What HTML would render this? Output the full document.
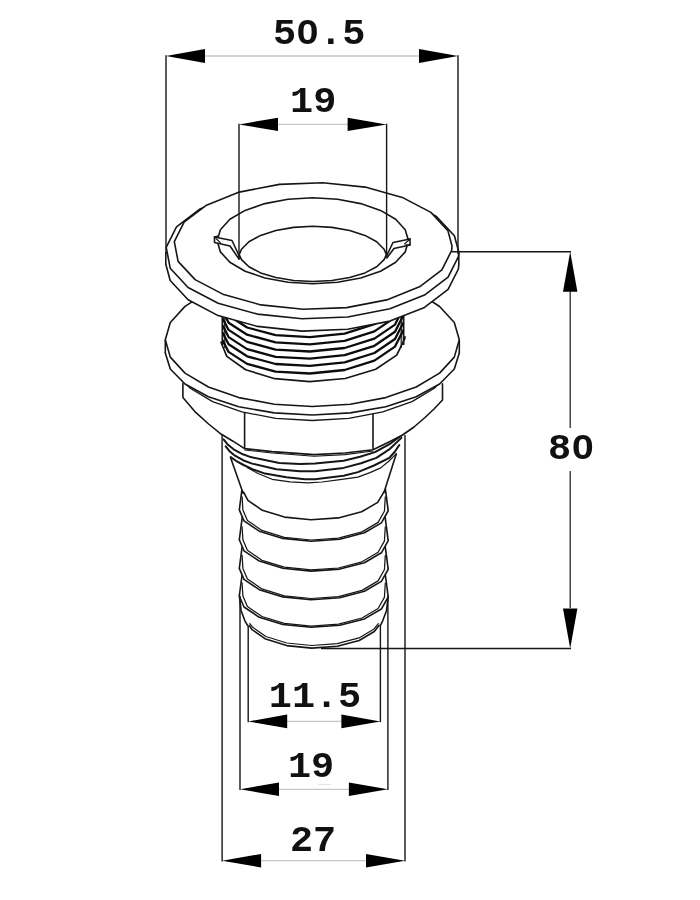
<!DOCTYPE html>
<html><head><meta charset="utf-8"><title>Thru-hull fitting dimensions</title>
<style>
html,body{margin:0;padding:0;background:#fff;}
body{width:700px;height:900px;overflow:hidden;}
svg{display:block;}
text{font-family:"Liberation Mono",monospace;font-weight:bold;fill:#111;}
.lbl{filter:grayscale(1);}
</style></head>
<body>
<svg width="700" height="900" viewBox="0 0 700 900">
<rect width="700" height="900" fill="#fff"/>
<!-- hose barb -->
<polygon points="380.3,619.8 380.3,620.8 374.3,631.5 359.2,640.5 337.3,646.3 311.8,648.1 286.6,645.6 265.7,639.1 252.1,629.7 247.9,618.8 253.9,608.1 269.0,599.1 290.9,593.3 316.4,591.5 341.6,594.0 362.5,600.5 376.1,609.9 380.3,619.8" fill="#fff" stroke="none"/>
<polygon points="239.5,597.0 388.1,597.0 380.3,625.6 247.7,625.6" fill="#fff" stroke="none"/>
<polyline points="379.0,625.4 374.3,631.5 359.2,640.5 337.3,646.3 311.8,648.1 286.6,645.6 265.7,639.1 252.1,629.7 249.2,625.4" fill="none" stroke="#161616" stroke-width="1.6" stroke-linejoin="round" stroke-linecap="round"/>
<polyline points="388.1,597.0 386.5,610.7 382.7,620.8 380.3,625.6" fill="none" stroke="#161616" stroke-width="1.6" stroke-linejoin="round" stroke-linecap="round"/>
<polyline points="239.5,597.0 241.1,610.7 244.9,620.8 247.7,625.6" fill="none" stroke="#161616" stroke-width="1.6" stroke-linejoin="round" stroke-linecap="round"/>
<polyline points="378.3,623.6 374.1,628.9 359.0,637.9 337.2,643.7 311.8,645.5 286.8,643.0 265.9,636.5 252.4,627.1 249.9,623.6" fill="none" stroke="#161616" stroke-width="1.2" stroke-linejoin="round" stroke-linecap="round"/>
<polygon points="388.1,596.0 388.1,597.1 381.4,609.0 364.4,618.9 339.8,625.3 311.1,627.3 282.8,624.5 259.3,617.3 244.0,607.0 239.3,596.0 242.7,570.0 384.7,570.0" fill="#fff" stroke="none"/>
<polyline points="388.1,596.0 388.1,597.1 381.4,609.0 364.4,618.9 339.8,625.3 311.1,627.3 282.8,624.5 259.3,617.3 244.0,607.0 239.3,596.0" fill="none" stroke="#161616" stroke-width="1.6" stroke-linejoin="round" stroke-linecap="round"/>
<polyline points="385.3,583.0 384.5,596.0 384.5,597.1 378.1,608.5 362.0,618.0 338.5,624.2 311.2,626.1 284.3,623.4 261.9,616.5 247.4,606.5 242.9,596.0 242.1,583.0" fill="none" stroke="#161616" stroke-width="1.25" stroke-linejoin="round" stroke-linecap="round"/>
<line x1="239.3" y1="596.0" x2="242.7" y2="570.0" stroke="#161616" stroke-width="1.6"/>
<line x1="388.1" y1="596.0" x2="384.7" y2="570.0" stroke="#161616" stroke-width="1.6"/>
<polygon points="388.1,568.4 388.1,569.5 381.4,581.4 364.4,591.3 339.8,597.7 311.1,599.7 282.8,596.9 259.3,589.7 244.0,579.4 239.3,568.4 242.7,542.4 384.7,542.4" fill="#fff" stroke="none"/>
<polyline points="388.1,568.4 388.1,569.5 381.4,581.4 364.4,591.3 339.8,597.7 311.1,599.7 282.8,596.9 259.3,589.7 244.0,579.4 239.3,568.4" fill="none" stroke="#161616" stroke-width="1.6" stroke-linejoin="round" stroke-linecap="round"/>
<polyline points="385.3,555.4 384.5,568.4 384.5,569.5 378.1,580.9 362.0,590.4 338.5,596.6 311.2,598.5 284.3,595.8 261.9,588.9 247.4,578.9 242.9,568.4 242.1,555.4" fill="none" stroke="#161616" stroke-width="1.25" stroke-linejoin="round" stroke-linecap="round"/>
<line x1="239.3" y1="568.4" x2="242.7" y2="542.4" stroke="#161616" stroke-width="1.6"/>
<line x1="388.1" y1="568.4" x2="384.7" y2="542.4" stroke="#161616" stroke-width="1.6"/>
<polygon points="388.1,539.8 388.1,540.9 381.4,552.8 364.4,562.7 339.8,569.1 311.1,571.1 282.8,568.3 259.3,561.1 244.0,550.8 239.3,539.8 242.7,513.8 384.7,513.8" fill="#fff" stroke="none"/>
<polyline points="388.1,539.8 388.1,540.9 381.4,552.8 364.4,562.7 339.8,569.1 311.1,571.1 282.8,568.3 259.3,561.1 244.0,550.8 239.3,539.8" fill="none" stroke="#161616" stroke-width="1.6" stroke-linejoin="round" stroke-linecap="round"/>
<polyline points="385.3,526.8 384.5,539.8 384.5,540.9 378.1,552.3 362.0,561.8 338.5,568.0 311.2,569.9 284.3,567.2 261.9,560.3 247.4,550.3 242.9,539.8 242.1,526.8" fill="none" stroke="#161616" stroke-width="1.25" stroke-linejoin="round" stroke-linecap="round"/>
<line x1="239.3" y1="539.8" x2="242.7" y2="513.8" stroke="#161616" stroke-width="1.6"/>
<line x1="388.1" y1="539.8" x2="384.7" y2="513.8" stroke="#161616" stroke-width="1.6"/>
<polygon points="388.1,509.9 388.1,511.0 381.4,522.9 364.4,532.8 339.8,539.2 311.1,541.2 282.8,538.4 259.3,531.2 244.0,520.9 239.3,509.9 242.7,483.9 384.7,483.9" fill="#fff" stroke="none"/>
<polyline points="388.1,509.9 388.1,511.0 381.4,522.9 364.4,532.8 339.8,539.2 311.1,541.2 282.8,538.4 259.3,531.2 244.0,520.9 239.3,509.9" fill="none" stroke="#161616" stroke-width="1.6" stroke-linejoin="round" stroke-linecap="round"/>
<polyline points="385.3,496.9 384.5,509.9 384.5,511.0 378.1,522.4 362.0,531.9 338.5,538.1 311.2,540.0 284.3,537.3 261.9,530.4 247.4,520.4 242.9,509.9 242.1,496.9" fill="none" stroke="#161616" stroke-width="1.25" stroke-linejoin="round" stroke-linecap="round"/>
<line x1="239.3" y1="509.9" x2="242.7" y2="483.9" stroke="#161616" stroke-width="1.6"/>
<line x1="388.1" y1="509.9" x2="384.7" y2="483.9" stroke="#161616" stroke-width="1.6"/>
<!-- cone and collar -->
<polygon points="402.1,435.0 396.4,453.6 383.8,493.0 383.8,492.1 377.7,502.4 361.6,511.8 338.3,517.9 311.2,519.8 284.5,517.1 262.3,510.3 247.9,500.4 243.6,492.1 243.4,494.0 230.7,457.1 225.7,446.4 223.6,439.3" fill="#fff" stroke="none"/>
<polyline points="383.8,492.1 377.7,502.4 361.6,511.8 338.3,517.9 311.2,519.8 284.5,517.1 262.3,510.3 247.9,500.4 243.6,492.1" fill="none" stroke="#161616" stroke-width="1.6" stroke-linejoin="round" stroke-linecap="round"/>
<line x1="230.7" y1="457.9" x2="243.4" y2="494.0" stroke="#161616" stroke-width="1.6"/>
<line x1="396.4" y1="453.6" x2="383.8" y2="493.0" stroke="#161616" stroke-width="1.6"/>
<polyline points="247.5,467.8 258.0,473.5 272.1,479.3 290.0,481.8 307.9,482.9 322.0,482.0 340.0,479.6 357.9,477.1 370.0,472.6 380.7,467.9 389.0,461.0 396.4,453.6" fill="none" stroke="#161616" stroke-width="1.2" stroke-linejoin="round" stroke-linecap="round"/>
<polyline points="230.7,457.1 236.0,460.8 243.6,465.0 254.0,469.8 265.0,473.6 286.4,477.3 305.0,479.3 315.0,479.3 343.6,475.7 357.9,472.1 374.0,465.5 389.3,457.9 395.0,451.5 399.3,445.0" fill="none" stroke="#161616" stroke-width="2.0" stroke-linejoin="round" stroke-linecap="round"/>
<polyline points="225.7,446.4 229.5,451.2 235.0,455.7 243.0,460.2 252.1,463.6 276.4,469.3 300.0,471.3 315.0,471.2 343.6,467.9 361.0,463.2 376.4,457.9 390.0,448.8 401.4,437.9" fill="none" stroke="#161616" stroke-width="2.0" stroke-linejoin="round" stroke-linecap="round"/>
<polyline points="223.6,439.3 228.0,444.8 233.6,449.3 241.5,453.7 250.7,457.1 279.3,462.9 300.0,463.9 315.0,463.6 343.6,460.7 360.0,456.8 375.0,452.1 389.5,444.2 402.1,435.0" fill="none" stroke="#161616" stroke-width="2.0" stroke-linejoin="round" stroke-linecap="round"/>
<!-- hex -->
<polygon points="182.9,383.6 182.9,397.6 195.7,412.4 208.6,424.0 221.4,434.3 233.0,441.2 244.6,448.6 272.0,451.6 314.0,454.6 345.0,453.0 373.0,449.8 390.0,441.5 402.5,435.0 414.0,427.0 425.0,417.5 434.0,409.0 442.5,400.0 442.5,383.7" fill="#fff" stroke="none"/>
<polyline points="182.9,383.6 182.9,397.6 195.7,412.4 208.6,424.0 221.4,434.3 233.0,441.2 244.6,448.6 272.0,451.6 314.0,454.6 345.0,453.0 373.0,449.8 390.0,441.5 402.5,435.0 414.0,427.0 425.0,417.5 434.0,409.0 442.5,400.0 442.5,383.7" fill="none" stroke="#161616" stroke-width="1.6" stroke-linejoin="round" stroke-linecap="round"/>
<polyline points="244.6,450.0 272.0,453.0 314.0,456.2 345.0,454.6 373.0,451.0" fill="none" stroke="#161616" stroke-width="1.1" stroke-linejoin="round" stroke-linecap="round"/>
<line x1="244.6" y1="411.0" x2="244.6" y2="449.0" stroke="#161616" stroke-width="1.6"/>
<line x1="373.0" y1="414.0" x2="373.0" y2="449.0" stroke="#161616" stroke-width="1.6"/>
<!-- nut flange -->
<polygon points="453.3,356.0 448.5,372.7 434.4,388.2 412.0,401.6 382.8,411.9 348.8,418.3 312.3,420.5 275.8,418.3 241.8,411.9 212.6,401.6 190.2,388.2 176.1,372.7 171.3,356.0 176.1,339.3 190.2,323.8 212.6,310.4 241.8,300.1 275.8,293.7 312.3,291.5 348.8,293.7 382.8,300.1 412.0,310.4 434.4,323.8 448.5,339.3 453.3,356.0" fill="#fff" stroke="none"/>
<polyline points="451.2,367.2 448.5,372.7 434.4,388.2 412.0,401.6 382.8,411.9 348.8,418.3 312.3,420.5 275.8,418.3 241.8,411.9 212.6,401.6 190.2,388.2 176.1,372.7 173.4,367.2" fill="none" stroke="#161616" stroke-width="1.3" stroke-linejoin="round" stroke-linecap="round"/>
<polygon points="459.3,353.0 454.3,369.0 439.6,384.0 416.2,396.8 385.8,406.7 350.3,412.9 312.3,415.0 274.3,412.9 238.8,406.7 208.4,396.8 185.0,384.0 170.3,369.0 165.3,353.0 170.3,337.0 185.0,322.0 208.4,309.2 238.8,299.3 274.3,293.1 312.3,291.0 350.3,293.1 385.8,299.3 416.2,309.2 439.6,322.0 454.3,337.0 459.3,353.0" fill="#fff" stroke="none"/>
<polygon points="459.3,339.8 454.3,357.1 439.6,373.1 416.2,387.0 385.8,397.6 350.3,404.2 312.3,406.5 274.3,404.2 238.8,397.6 208.4,387.0 185.0,373.1 170.3,357.1 165.3,339.8 170.3,322.5 185.0,306.4 208.4,292.6 238.8,282.0 274.3,275.4 312.3,273.1 350.3,275.4 385.8,282.0 416.2,292.6 439.6,306.4 454.3,322.5 459.3,339.8" fill="#fff" stroke="none"/>
<polygon points="165.3,339.8 459.3,339.8 459.3,353.0 165.3,353.0" fill="#fff" stroke="none"/>
<polyline points="459.3,353.0 454.3,369.0 439.6,384.0 416.2,396.8 385.8,406.7 350.3,412.9 312.3,415.0 274.3,412.9 238.8,406.7 208.4,396.8 185.0,384.0 170.3,369.0 165.3,353.0" fill="none" stroke="#161616" stroke-width="1.6" stroke-linejoin="round" stroke-linecap="round"/>
<polyline points="424.9,296.9 439.6,306.5 454.3,322.5 459.3,339.8 454.3,357.1 439.6,373.1 416.2,387.0 385.8,397.6 350.3,404.2 312.3,406.5 274.3,404.2 238.8,397.6 208.4,387.0 185.0,373.1 170.3,357.1 165.3,339.8 170.3,322.5 185.0,306.4 199.7,296.9" fill="none" stroke="#161616" stroke-width="1.6" stroke-linejoin="round" stroke-linecap="round"/>
<line x1="165.3" y1="339.8" x2="165.3" y2="353.0" stroke="#161616" stroke-width="1.6"/>
<line x1="459.3" y1="339.8" x2="459.3" y2="353.0" stroke="#161616" stroke-width="1.6"/>
<!-- threads -->
<polyline points="405.0,336.8 404.9,338.3 396.7,355.1 375.7,369.2 345.2,378.5 309.8,381.7 274.8,378.7 245.7,369.8 226.8,356.4 221.0,342.2" fill="none" stroke="#161616" stroke-width="1.7" stroke-linejoin="round" stroke-linecap="round"/>
<line x1="222.4" y1="312.0" x2="222.4" y2="345.0" stroke="#161616" stroke-width="1.8"/>
<line x1="403.6" y1="312.0" x2="403.6" y2="345.0" stroke="#161616" stroke-width="1.8"/>
<line x1="224.8" y1="316.0" x2="224.8" y2="348.0" stroke="#161616" stroke-width="1.2"/>
<line x1="401.2" y1="316.0" x2="401.2" y2="348.0" stroke="#161616" stroke-width="1.2"/>
<polyline points="403.0,294.4 395.0,310.2 374.4,324.2 344.6,333.6 309.9,337.1 275.6,335.2 247.1,327.5 228.6,315.5 223.0,304.5" fill="none" stroke="#0c0c0c" stroke-width="2.3" stroke-linejoin="round" stroke-linecap="round"/>
<polyline points="403.0,301.6 395.0,317.4 374.4,331.4 344.6,340.8 309.9,344.3 275.6,342.4 247.1,334.7 228.6,322.7 223.0,311.7" fill="none" stroke="#0c0c0c" stroke-width="2.3" stroke-linejoin="round" stroke-linecap="round"/>
<polyline points="403.0,308.8 395.0,324.6 374.4,338.6 344.6,348.0 309.9,351.5 275.6,349.6 247.1,341.9 228.6,329.9 223.0,318.9" fill="none" stroke="#0c0c0c" stroke-width="2.3" stroke-linejoin="round" stroke-linecap="round"/>
<polyline points="403.0,316.0 395.0,331.8 374.4,345.8 344.6,355.2 309.9,358.7 275.6,356.8 247.1,349.1 228.6,337.1 223.0,326.1" fill="none" stroke="#0c0c0c" stroke-width="2.3" stroke-linejoin="round" stroke-linecap="round"/>
<polyline points="403.0,323.2 395.0,339.0 374.4,353.0 344.6,362.4 309.9,365.9 275.6,364.0 247.1,356.3 228.6,344.3 223.0,333.3" fill="none" stroke="#0c0c0c" stroke-width="2.3" stroke-linejoin="round" stroke-linecap="round"/>
<polyline points="403.0,330.8 395.0,346.6 374.4,360.6 344.6,370.0 309.9,373.5 275.6,371.6 247.1,363.9 228.6,351.9 223.0,340.9" fill="none" stroke="#0c0c0c" stroke-width="2.3" stroke-linejoin="round" stroke-linecap="round"/>
<!-- flange -->
<polygon points="458.8,264.3 458.4,269.0 448.1,289.4 424.5,307.4 389.9,321.1 347.7,329.3 302.1,331.1 257.4,326.4 218.1,315.6 188.1,299.8 170.2,280.5 166.2,259.6 176.5,239.2 200.1,221.2 234.7,207.5 276.9,199.3 322.5,197.5 367.2,202.2 406.5,213.0 436.5,228.8 454.4,248.1 458.8,264.3" fill="#fff" stroke="none"/>
<polygon points="458.8,252.0 458.4,256.7 448.1,277.1 424.5,295.1 389.9,308.8 347.7,317.0 302.1,318.8 257.4,314.1 218.1,303.3 188.1,287.5 170.2,268.2 166.2,247.3 176.5,226.9 200.1,208.9 234.7,195.2 276.9,187.0 322.5,185.2 367.2,189.9 406.5,200.7 436.5,216.5 454.4,235.8 458.8,252.0" fill="#fff" stroke="none"/>
<polyline points="458.8,264.3 458.4,269.0 448.1,289.4 424.5,307.4 389.9,321.1 347.7,329.3 302.1,331.1 257.4,326.4 218.1,315.6 188.1,299.8 170.2,280.5 165.8,264.3" fill="none" stroke="#161616" stroke-width="1.6" stroke-linejoin="round" stroke-linecap="round"/>
<line x1="165.8" y1="252.0" x2="165.8" y2="264.3" stroke="#161616" stroke-width="1.6"/>
<line x1="458.8" y1="252.0" x2="458.8" y2="264.3" stroke="#161616" stroke-width="1.6"/>
<polygon points="458.8,252.0 458.4,256.7 448.1,277.1 424.5,295.1 389.9,308.8 347.7,317.0 302.1,318.8 257.4,314.1 218.1,303.3 188.1,287.5 170.2,268.2 166.2,247.3 176.5,226.9 200.1,208.9 234.7,195.2 276.9,187.0 322.5,185.2 367.2,189.9 406.5,200.7 436.5,216.5 454.4,235.8 458.8,252.0" fill="#fff" stroke="#161616" stroke-width="1.6" stroke-linejoin="round" stroke-linecap="round"/>
<polygon points="452.0,246.0 451.7,250.4 441.9,269.8 419.5,286.8 386.7,299.9 346.6,307.6 303.3,309.3 260.9,304.9 223.7,294.6 195.1,279.6 178.1,261.4 174.3,241.6 184.1,222.2 206.5,205.2 239.3,192.1 279.4,184.4 322.7,182.7 365.1,187.1 402.3,197.4 430.9,212.4 447.9,230.6 452.0,246.0" fill="#fff" stroke="#161616" stroke-width="1.6" stroke-linejoin="round" stroke-linecap="round"/>
<polygon points="408.5,240.8 405.2,251.9 395.7,262.3 380.5,271.2 360.7,278.0 337.6,282.3 312.8,283.8 288.0,282.3 265.0,278.0 245.1,271.2 229.9,262.3 220.4,251.9 217.1,240.8 220.4,229.7 229.9,219.3 245.1,210.4 264.9,203.6 288.0,199.3 312.8,197.8 337.6,199.3 360.7,203.6 380.5,210.4 395.7,219.3 405.2,229.7 408.5,240.8" fill="none" stroke="#161616" stroke-width="1.6" stroke-linejoin="round" stroke-linecap="round"/>
<polyline points="386.2,255.1 384.1,259.6 376.7,266.8 365.0,272.9 349.7,277.5 331.9,280.5 312.8,281.5 293.7,280.5 275.9,277.5 260.6,272.9 248.9,266.8 241.5,259.6 239.4,255.1" fill="none" stroke="#161616" stroke-width="1.6" stroke-linejoin="round" stroke-linecap="round"/>
<polyline points="239.4,254.1 241.5,249.3 248.9,241.8 260.6,235.4 275.9,230.5 293.7,227.4 312.8,226.3 331.9,227.4 349.7,230.5 365.0,235.4 376.7,241.8 384.1,249.3 386.2,254.1" fill="none" stroke="#161616" stroke-width="1.6" stroke-linejoin="round" stroke-linecap="round"/>
<polygon points="214.5,237.0 232.0,240.5 239.0,255.0 239.0,259.0 230.0,246.0 214.5,242.5" fill="#fff" stroke="none"/>
<polyline points="217.7,236.2 214.5,237.0 232.0,240.5 239.0,255.5" fill="none" stroke="#161616" stroke-width="1.6" stroke-linejoin="round" stroke-linecap="round"/>
<polyline points="214.5,237.0 214.5,242.5 230.0,246.0 239.0,259.0" fill="none" stroke="#161616" stroke-width="1.6" stroke-linejoin="round" stroke-linecap="round"/>
<polyline points="216.0,238.5 220.5,242.8" fill="none" stroke="#161616" stroke-width="1.1" stroke-linejoin="round" stroke-linecap="round"/>
<polyline points="239.0,255.0 239.0,259.0" fill="none" stroke="#161616" stroke-width="1.6" stroke-linejoin="round" stroke-linecap="round"/>
<polygon points="410.0,239.0 393.0,242.5 386.6,255.0 386.6,258.0 394.0,248.5 410.0,245.0" fill="#fff" stroke="none"/>
<polyline points="407.5,239.0 410.0,239.0 410.0,245.0 406.0,245.0" fill="none" stroke="#161616" stroke-width="1.6" stroke-linejoin="round" stroke-linecap="round"/>
<polyline points="410.0,239.0 393.0,242.5 386.8,255.5" fill="none" stroke="#161616" stroke-width="1.6" stroke-linejoin="round" stroke-linecap="round"/>
<polyline points="410.0,245.0 394.0,248.5 386.8,258.0" fill="none" stroke="#161616" stroke-width="1.6" stroke-linejoin="round" stroke-linecap="round"/>
<polyline points="409.0,240.0 404.5,244.0" fill="none" stroke="#161616" stroke-width="1.1" stroke-linejoin="round" stroke-linecap="round"/>
<!-- dimensions -->
<line x1="196.0" y1="56.0" x2="428.0" y2="56.0" stroke="#c6c6c6" stroke-width="1.3"/>
<polygon points="166.0,56.0 205.0,49.0 205.0,63.0" fill="#000"/>
<polygon points="458.0,56.0 419.0,49.0 419.0,63.0" fill="#000"/>
<line x1="166.0" y1="55.3" x2="166.0" y2="254.0" stroke="#161616" stroke-width="1.4"/>
<line x1="458.0" y1="55.3" x2="458.0" y2="254.0" stroke="#161616" stroke-width="1.4"/>
<line x1="269.0" y1="124.4" x2="356.6" y2="124.4" stroke="#c6c6c6" stroke-width="1.3"/>
<polygon points="239.0,124.4 278.0,117.7 278.0,131.1" fill="#000"/>
<polygon points="386.6,124.4 347.6,117.7 347.6,131.1" fill="#000"/>
<line x1="239.0" y1="123.7" x2="239.0" y2="258.0" stroke="#161616" stroke-width="1.4"/>
<line x1="386.6" y1="123.7" x2="386.6" y2="257.0" stroke="#161616" stroke-width="1.4"/>
<line x1="278.2" y1="721.4" x2="350.4" y2="721.4" stroke="#c6c6c6" stroke-width="1.3"/>
<polygon points="248.2,721.4 287.2,714.6 287.2,728.2" fill="#000"/>
<polygon points="380.4,721.4 341.4,714.6 341.4,728.2" fill="#000"/>
<line x1="248.2" y1="626.0" x2="248.2" y2="722.2" stroke="#161616" stroke-width="1.4"/>
<line x1="380.4" y1="626.0" x2="380.4" y2="722.2" stroke="#161616" stroke-width="1.4"/>
<line x1="270.0" y1="789.3" x2="357.9" y2="789.3" stroke="#c6c6c6" stroke-width="1.3"/>
<polygon points="240.0,789.3 279.0,782.5 279.0,796.1" fill="#000"/>
<polygon points="387.9,789.3 348.9,782.5 348.9,796.1" fill="#000"/>
<line x1="240.0" y1="596.0" x2="240.0" y2="790.0" stroke="#161616" stroke-width="1.4"/>
<line x1="387.9" y1="596.0" x2="387.9" y2="790.0" stroke="#161616" stroke-width="1.4"/>
<line x1="252.1" y1="860.7" x2="375.0" y2="860.7" stroke="#c6c6c6" stroke-width="1.3"/>
<polygon points="222.1,860.7 261.1,853.9 261.1,867.5" fill="#000"/>
<polygon points="405.0,860.7 366.0,853.9 366.0,867.5" fill="#000"/>
<line x1="222.1" y1="434.5" x2="222.1" y2="861.5" stroke="#161616" stroke-width="1.4"/>
<line x1="405.0" y1="435.0" x2="405.0" y2="861.5" stroke="#161616" stroke-width="1.4"/>
<line x1="570.2" y1="290.0" x2="570.2" y2="428.0" stroke="#2a2a2a" stroke-width="1.3"/>
<line x1="570.2" y1="471.0" x2="570.2" y2="608.0" stroke="#2a2a2a" stroke-width="1.3"/>
<polygon points="570.2,251.7 563.0,291.7 577.4,291.7" fill="#000"/>
<polygon points="570.2,648.5 563.0,608.5 577.4,608.5" fill="#000"/>
<line x1="451.5" y1="251.7" x2="571.0" y2="251.7" stroke="#161616" stroke-width="1.4"/>
<line x1="321.0" y1="648.5" x2="571.0" y2="648.5" stroke="#161616" stroke-width="1.4"/>
<line x1="318.0" y1="784.4" x2="331.0" y2="784.4" stroke="#e2e2e2" stroke-width="1.0"/>
<g class="lbl" transform="translate(319.2,43.8) scale(1.07,1)"><text x="0" y="0" font-size="36" text-anchor="middle">50.5</text><ellipse cx="-10.80" cy="-11.88" rx="2.6" ry="4.3" fill="#fff"/></g>
<g class="lbl" transform="translate(313.2,111.6) scale(1.07,1)"><text x="0" y="0" font-size="36" text-anchor="middle">19</text></g>
<g class="lbl" transform="translate(571.2,459.2) scale(1.07,1)"><text x="0" y="0" font-size="36" text-anchor="middle">80</text><ellipse cx="10.80" cy="-11.88" rx="2.6" ry="4.3" fill="#fff"/></g>
<g class="lbl" transform="translate(315.0,706.8) scale(1.07,1)"><text x="0" y="0" font-size="36" text-anchor="middle">11.5</text></g>
<g class="lbl" transform="translate(311.0,777.2) scale(1.07,1)"><text x="0" y="0" font-size="36" text-anchor="middle">19</text></g>
<g class="lbl" transform="translate(313.0,850.8) scale(1.07,1)"><text x="0" y="0" font-size="36" text-anchor="middle">27</text></g>
</svg>
</body></html>
